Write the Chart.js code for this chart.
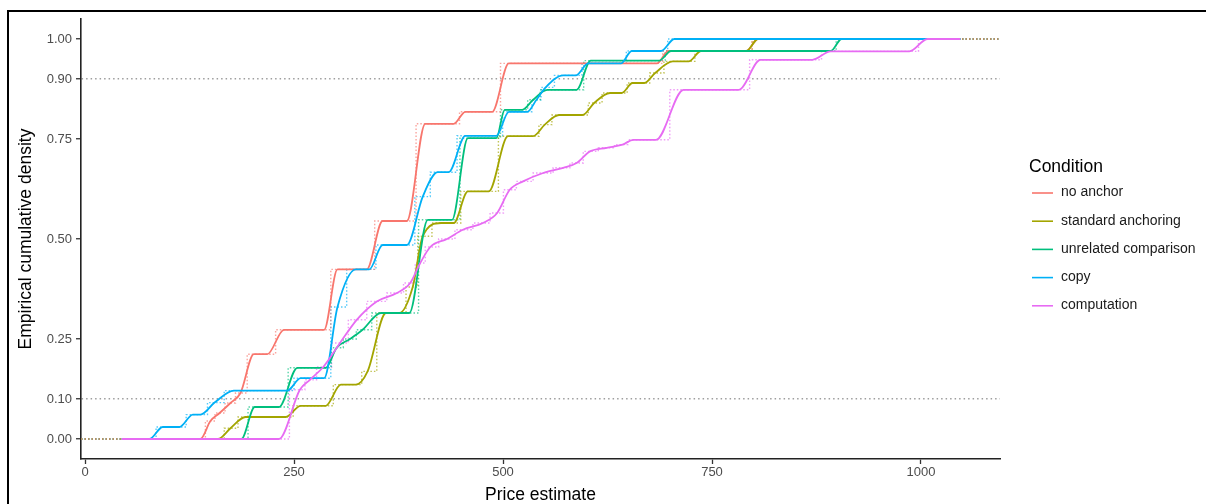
<!DOCTYPE html>
<html>
<head>
<meta charset="utf-8">
<script src="https://cdn.jsdelivr.net/npm/chart.js@4"></script>
<style>
    html, body { margin: 0; padding: 0; background: #fff; }
    #wrap { position: relative; width: 1206px; height: 504px; overflow: hidden; }
    #frame { position: absolute; left: 7px; top: 10px; right: -10px; bottom: -10px;
             border-left: 2px solid #000; border-top: 2px solid #000; }
    canvas { position: absolute; left: 0; top: 0; }
</style>
</head>
<body>
<div id="wrap">
    <div id="frame"></div>
    <canvas id="ecdfChart" width="1206" height="504"></canvas>
</div>
<script>
// Data: [price estimate, cumulative density] along each smoothed curve
const conditions = ['no anchor', 'standard anchoring', 'unrelated comparison', 'copy', 'computation'];

const noAnchor = [
    [44, 0], [138, 0], [150, 0.045], [161, 0.065], [174, 0.09], [186, 0.115],
    [202, 0.212], [218, 0.212], [238, 0.273], [286, 0.273], [302, 0.424], [337, 0.424],
    [356, 0.545], [385, 0.545], [407, 0.788], [441, 0.788], [455, 0.818], [487, 0.818],
    [507, 0.939], [684, 0.939], [698, 0.97], [791, 0.97], [805, 1], [1047, 1]
];

const standardAnchoring = [
    [44, 0], [159, 0], [174, 0.027], [192, 0.055], [240, 0.055], [258, 0.083], [288, 0.083],
    [306, 0.136], [324, 0.136], [338, 0.169], [360, 0.315], [376, 0.315], [392, 0.38],
    [404, 0.507], [426, 0.54], [441, 0.54], [458, 0.619], [483, 0.619], [506, 0.757],
    [536, 0.757], [550, 0.786], [567, 0.81], [595, 0.81], [609, 0.84], [628, 0.865],
    [642, 0.865], [655, 0.89], [669, 0.89], [682, 0.915], [703, 0.944], [722, 0.944],
    [737, 0.97], [791, 0.97], [805, 1], [1047, 1]
];

const unrelatedComparison = [
    [44, 0], [187, 0], [203, 0.08], [232, 0.08], [254, 0.178], [288, 0.178], [301, 0.228],
    [317, 0.25], [332, 0.273], [354, 0.315], [388, 0.315], [410, 0.548], [439, 0.548],
    [458, 0.752], [492, 0.752], [502, 0.823], [523, 0.823], [536, 0.848], [553, 0.873],
    [588, 0.873], [605, 0.946], [687, 0.946], [701, 0.97], [892, 0.97], [905, 1], [1047, 1]
];

const copy = [
    [44, 0], [77, 0], [93, 0.03], [113, 0.03], [129, 0.061], [138, 0.061], [155, 0.091],
    [178, 0.121], [242, 0.121], [258, 0.152], [286, 0.152], [302, 0.33], [324, 0.424],
    [340, 0.424], [356, 0.485], [385, 0.485], [404, 0.606], [422, 0.667], [435, 0.667],
    [455, 0.758], [492, 0.758], [507, 0.818], [529, 0.818], [540, 0.848], [551, 0.879],
    [572, 0.909], [587, 0.909], [602, 0.939], [641, 0.939], [654, 0.97], [689, 0.97],
    [705, 1], [1047, 1]
];

const computation = [
    [44, 0], [232, 0], [257, 0.123], [269, 0.148], [285, 0.18], [305, 0.24], [325, 0.298],
    [349, 0.344], [373, 0.365], [389, 0.39], [401, 0.44], [413, 0.48], [433, 0.5],
    [452, 0.523], [476, 0.54], [493, 0.565], [508, 0.623], [524, 0.644], [548, 0.665],
    [572, 0.678], [588, 0.69], [604, 0.719], [624, 0.728], [643, 0.736], [656, 0.748],
    [683, 0.748], [716, 0.873], [782, 0.873], [808, 0.948], [870, 0.948], [892, 0.969],
    [986, 0.969], [1008, 1], [1047, 1]
];

const seriesValues = [noAnchor, standardAnchoring, unrelatedComparison, copy, computation];

const xTicks = [0, 250, 500, 750, 1000];
const yTicks = [0, 0.10, 0.25, 0.50, 0.75, 0.90, 1.00];
const refLines = [0.10, 0.90];
const xMin = -4.8;
const xMax = 1094.5;

// Styles
const colours = ['#F8766D', '#A3A500', '#00BF7D', '#00B0F6', '#E76BF3'];
const FONT = '"Liberation Sans", Arial, Helvetica, sans-serif';

function toPoints(arr) {
    return arr.map(([x, y]) => ({ x: x, y: y }));
}

const datasets = [];

// smoothed curves, the later condition drawn on top
seriesValues.forEach((vals, i) => {
    datasets.push({
        label: conditions[i],
        data: toPoints(vals),
        borderColor: colours[i],
        borderWidth: 1.8,
        pointRadius: 0,
        fill: false,
        cubicInterpolationMode: 'monotone',
        order: 5 - i
    });
});

// dotted empirical step functions underneath
seriesValues.forEach((vals, i) => {
    datasets.push({
        label: conditions[i] + ' (ecdf)',
        data: [{ x: xMin, y: 0 }, ...toPoints(vals), { x: xMax, y: 1 }],
        borderColor: colours[i] + 'aa',
        borderWidth: 1.4,
        borderDash: [1.5, 2],
        pointRadius: 0,
        fill: false,
        stepped: 'middle',
        order: 20 + i
    });
});

const conditionLegend = {
    id: 'conditionLegend',
    afterDraw(chart) {
        const { ctx, chartArea } = chart;
        const left = chartArea.right + 29;
        ctx.save();
        ctx.textBaseline = 'middle';
        ctx.textAlign = 'left';
        ctx.fillStyle = '#000';
        ctx.font = '17.5px ' + FONT;
        ctx.fillText('Condition', left, 167);
        ctx.font = '14px ' + FONT;
        conditions.forEach((name, i) => {
            const y = 192.5 + i * 28.2;
            ctx.strokeStyle = colours[i];
            ctx.lineWidth = 1.6;
            ctx.beginPath();
            ctx.moveTo(left + 3, y + 0.5);
            ctx.lineTo(left + 24, y + 0.5);
            ctx.stroke();
            ctx.fillStyle = '#1a1a1a';
            ctx.fillText(name, left + 32, y);
        });
        ctx.restore();
    }
};

new Chart(document.getElementById('ecdfChart'), {
    type: 'line',
    data: { datasets: datasets },
    options: {
        responsive: false,
        animation: false,
        devicePixelRatio: 1,
        layout: { padding: { top: 19, right: 206, bottom: 0, left: 0 } },
        plugins: {
            legend: { display: false },
            tooltip: { enabled: false }
        },
        scales: {
            x: {
                type: 'linear',
                min: xMin,
                max: xMax,
                afterBuildTicks: axis => { axis.ticks = xTicks.map(v => ({ value: v })); },
                afterFit: scale => { scale.height = 45; },
                ticks: {
                    autoSkip: false,
                    maxRotation: 0,
                    padding: 1,
                    color: '#4d4d4d',
                    font: { family: FONT, size: 13 },
                    callback: v => String(v)
                },
                grid: {
                    drawOnChartArea: false,
                    tickLength: 5,
                    tickColor: '#333',
                    tickWidth: 1.3
                },
                border: { color: '#222', width: 1.6 },
                title: {
                    display: true,
                    text: 'Price estimate',
                    color: '#000',
                    font: { family: FONT, size: 17.5, lineHeight: 1 },
                    padding: { top: 0, bottom: 0 }
                }
            },
            y: {
                type: 'linear',
                min: -0.05,
                max: 1.05,
                afterBuildTicks: axis => { axis.ticks = yTicks.map(v => ({ value: v })); },
                afterFit: scale => { scale.width = 81; },
                ticks: {
                    autoSkip: false,
                    padding: 4,
                    color: '#4d4d4d',
                    font: { family: FONT, size: 13 },
                    callback: v => Number(v).toFixed(2)
                },
                grid: {
                    color: c => (c.tick && refLines.includes(c.tick.value)) ? '#9e9e9e' : 'rgba(0,0,0,0)',
                    lineWidth: 1.5,
                    tickLength: 5,
                    tickColor: '#333',
                    tickWidth: 1.3
                },
                border: { color: '#222', width: 1.6, dash: [1.5, 3] },
                title: {
                    display: true,
                    text: 'Empirical cumulative density',
                    color: '#000',
                    font: { family: FONT, size: 17.5, lineHeight: 1 },
                    padding: { top: 17, bottom: 0 }
                }
            }
        }
    },
    plugins: [conditionLegend]
});
</script>
</body>
</html>
